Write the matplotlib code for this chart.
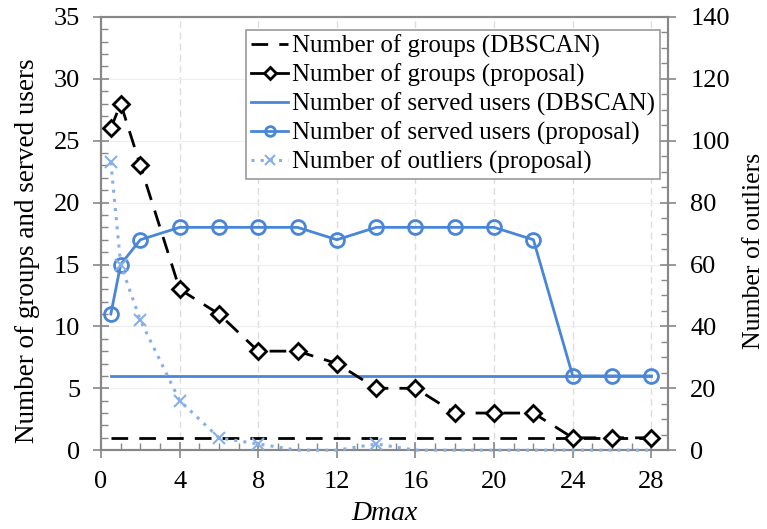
import numpy as np
import matplotlib.pyplot as plt
from matplotlib.ticker import MultipleLocator
from matplotlib.lines import Line2D

plt.rcParams['font.family'] = ['Liberation Serif', 'DejaVu Serif']
plt.rcParams['mathtext.fontset'] = 'stix'

dmax = [0.5, 1, 2, 4, 6, 8, 10, 12, 14, 16, 18, 20, 22, 24, 26, 28]
groups_prop = [26, 28, 23, 13, 11, 8, 8, 7, 5, 5, 3, 3, 3, 1, 1, 1]
served_prop = [11, 15, 17, 18, 18, 18, 18, 17, 18, 18, 18, 18, 17, 6, 6, 6]
outliers_prop = [93, 60, 42, 16, 4, 2, 0, 0, 2, 0, 0, 0, 0, 0, 0, 0]
groups_dbscan = [1] * len(dmax)
served_dbscan = [6] * len(dmax)

blue = '#4a86d8'
light_blue = '#86b0e6'
axis_gray = '#888888'

fig = plt.figure(figsize=(7.67, 5.29), dpi=100)
ax = fig.add_axes([0.1317, 0.149, 0.7393, 0.819])
ax2 = ax.twinx()

ax.plot(dmax, groups_dbscan, color='black', lw=2, dashes=(6, 4), zorder=3)
ax.plot(dmax, groups_prop, color='black', lw=2, dashes=(6, 4), marker='D',
        ms=8, mfc='white', mec='black', mew=2, zorder=4)
ax.plot(dmax, served_dbscan, color=blue, lw=2, zorder=3)
ax.plot(dmax, served_prop, color=blue, lw=2, marker='o', ms=10,
        mfc='none', mec=blue, mew=2, zorder=4)
# markers of the zero outlier points sit under the axis in the original
shown = [i for i, v in enumerate(outliers_prop) if v > 0]
ax2.plot(dmax, outliers_prop, color=light_blue, lw=2.2, ls=(0, (1, 2)),
         marker='x', ms=8, mew=1.5, markevery=shown, zorder=3, clip_on=False)

ax.set_xlim(0, 28.85)
ax.set_ylim(0, 35)
ax2.set_ylim(0, 140)
ax.set_xticks(np.arange(0, 29, 4))
ax.set_yticks(np.arange(0, 36, 5))
ax2.set_yticks(np.arange(0, 141, 20))
ax.xaxis.set_minor_locator(MultipleLocator(1))
ax.yaxis.set_minor_locator(MultipleLocator(1))
ax2.yaxis.set_minor_locator(MultipleLocator(5))

ax.grid(axis='x', color='#dddddd', ls=(0, (5, 3)), lw=1)
ax.grid(axis='y', color='#eeeeee', ls='-', lw=0.8)
ax.set_axisbelow(True)

for a in (ax, ax2):
    for s in a.spines.values():
        s.set_color(axis_gray)
        s.set_linewidth(1.5)
    a.tick_params(which='major', direction='inout', length=12, width=1.2,
                  color=axis_gray, labelsize=19, pad=9)
    a.tick_params(which='minor', direction='in', length=5, width=1,
                  color=axis_gray)
ax2.tick_params(axis='y', which='minor', direction='in')
ax2.tick_params(axis='y', which='major', direction='inout', pad=10)

ax.set_xlabel('Dmax', fontsize=20, style='italic', labelpad=6)
ax.set_ylabel('Number of groups and served users', fontsize=19.5)
ax2.set_ylabel('Number of outliers', fontsize=18.5)
ax.yaxis.set_label_coords(-0.107, 0.46)
ax2.yaxis.set_label_coords(1.132, 0.46)

handles = [
    Line2D([], [], color='black', lw=2, dashes=(6, 4)),
    Line2D([], [], color='black', lw=2, marker='D', ms=6, mfc='white', mew=2),
    Line2D([], [], color=blue, lw=2),
    Line2D([], [], color=blue, lw=2, marker='o', ms=7, mfc='none', mew=2),
    Line2D([], [], color=light_blue, lw=2.2, ls=(0, (1, 2)), marker='x',
           ms=7, mew=1.5),
]
labels = ['Number of groups (DBSCAN)', 'Number of groups (proposal)',
          'Number of served users (DBSCAN)', 'Number of served users (proposal)',
          'Number of outliers (proposal)']
leg = ax2.legend(handles, labels, loc='upper right', bbox_to_anchor=(0.986, 0.970),
                 borderaxespad=0, fontsize=18, handlelength=1.5,
                 handletextpad=0.15, labelspacing=0.22, borderpad=0.2,
                 fancybox=False, framealpha=1, edgecolor='#999999')
leg.get_frame().set_linewidth(1.2)

fig.savefig('out.png', dpi=100)
